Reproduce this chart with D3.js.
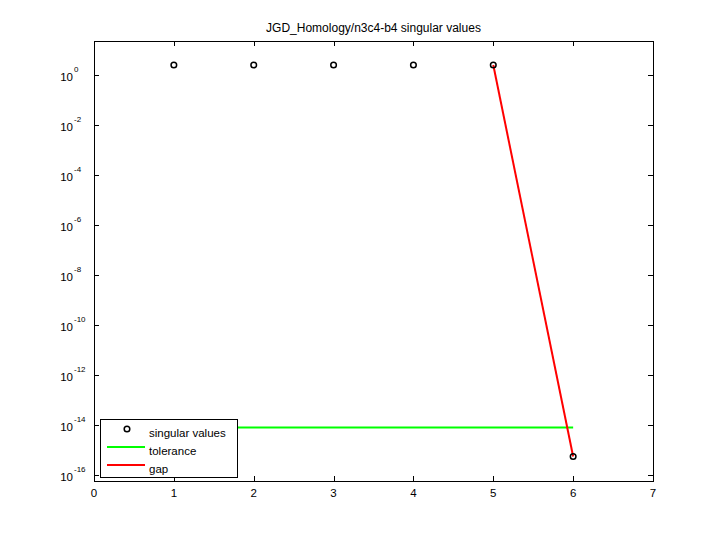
<!DOCTYPE html>
<html><head><meta charset="utf-8">
<script src="https://cdn.jsdelivr.net/npm/d3@7/dist/d3.min.js"></script>
<style>body{margin:0;background:#fff;} text{font-family:"Liberation Sans",Arial,sans-serif;}</style>
</head><body>
<svg id="c" width="720" height="540"></svg>
<script>
const titleText = "JGD_Homology/n3c4-b4 singular values";
const indices = [1, 2, 3, 4, 5, 6];
const singularValues = [2.5, 2.5, 2.5, 2.5, 2.5, 5.5e-16];
const toleranceX = [1, 6];
const toleranceY = [7.9e-15, 7.9e-15];
const gapX = [5, 6];
const gapY = [2.5, 5.5e-16];
const xTicks = [0, 1, 2, 3, 4, 5, 6, 7];
const yTickExps = [0, -2, -4, -6, -8, -10, -12, -14, -16];
const legendLabels = ["singular values", "tolerance", "gap"];

const svg = d3.select("#c");
const L = 94, R = 653, T = 41, B = 481;
const x = d3.scaleLinear().domain([0, 7]).range([L, R]);
const y = d3.scaleLog().domain([Math.pow(10, -16.24), Math.pow(10, 1.36)]).range([B, T]);

svg.append("rect").attr("x",0).attr("y",0).attr("width",720).attr("height",540).attr("fill","#fff");

// axes box
svg.append("rect").attr("x",L+0.5).attr("y",T+0.5).attr("width",R-L).attr("height",B-T)
  .attr("fill","none").attr("stroke","#000").attr("stroke-width",1);

const tl = 5;
const g = svg.append("g");
xTicks.forEach(t => {
  const px = Math.round(x(t)) + 0.5;
  g.append("line").attr("x1",px).attr("x2",px).attr("y1",B).attr("y2",B-tl).attr("stroke","#000");
  g.append("line").attr("x1",px).attr("x2",px).attr("y1",T).attr("y2",T+tl).attr("stroke","#000");
  g.append("text").attr("x",x(t)).attr("y",497).attr("text-anchor","middle").attr("font-size",11.5).text(t);
});
yTickExps.forEach(e => {
  const py = Math.round(y(Math.pow(10, e))) + 0.5;
  g.append("line").attr("x1",L).attr("x2",L+tl).attr("y1",py).attr("y2",py).attr("stroke","#000");
  g.append("line").attr("x1",R).attr("x2",R-tl).attr("y1",py).attr("y2",py).attr("stroke","#000");
  g.append("text").attr("x",73).attr("y",py+5).attr("text-anchor","end").attr("font-size",11.5).text("10");
  g.append("text").attr("x",74).attr("y",py-4).attr("text-anchor","start").attr("font-size",8).text(String(e));
});

// title
svg.append("text").attr("x",(L+R)/2).attr("y",32).attr("text-anchor","middle").attr("font-size",12).text(titleText);

// tolerance
const line = d3.line().x(d=>x(d[0])).y(d=>y(d[1]));
svg.append("path").datum(toleranceX.map((v,i)=>[v,toleranceY[i]])).attr("d",line)
  .attr("fill","none").attr("stroke","#00ff00").attr("stroke-width",2);
// gap
svg.append("path").datum(gapX.map((v,i)=>[v,gapY[i]])).attr("d",line)
  .attr("fill","none").attr("stroke","#ff0000").attr("stroke-width",2);
// points
svg.selectAll("circle.pt").data(indices).enter().append("circle").attr("class","pt")
  .attr("cx",d=>x(d)).attr("cy",(d,i)=>y(singularValues[i])).attr("r",2.8)
  .attr("fill","none").attr("stroke","#000").attr("stroke-width",1.5);

// legend
const lg = svg.append("g");
lg.append("rect").attr("x",100.5).attr("y",419.5).attr("width",137).attr("height",58)
  .attr("fill","#fff").attr("stroke","#000");
lg.append("circle").attr("cx",127).attr("cy",429).attr("r",2.8).attr("fill","none").attr("stroke","#000").attr("stroke-width",1.5);
lg.append("line").attr("x1",107).attr("x2",145).attr("y1",447).attr("y2",447).attr("stroke","#00ff00").attr("stroke-width",2);
lg.append("line").attr("x1",107).attr("x2",145).attr("y1",465).attr("y2",465).attr("stroke","#ff0000").attr("stroke-width",2);
legendLabels.forEach((t,i)=>{
  lg.append("text").attr("x",149).attr("y",437 + i*18).attr("font-size",11.5).text(t);
});
</script>
</body></html>
